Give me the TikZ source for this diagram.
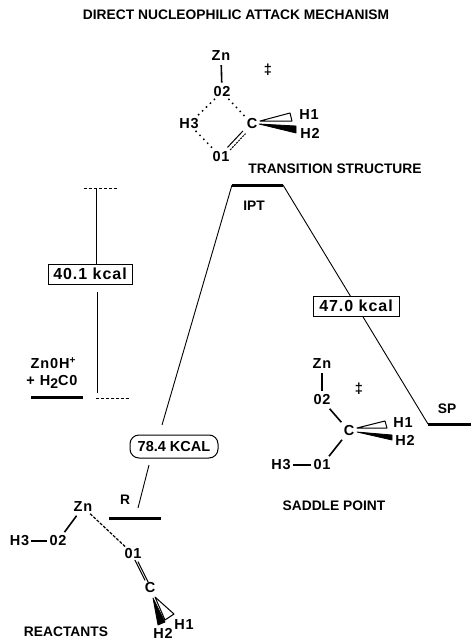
\documentclass[tikz,border=0pt]{standalone}
\usepackage{fontspec}
\setmainfont{Liberation Sans}
\newfontfamily\spacedfont[LetterSpace=6]{Liberation Sans}
\newcommand{\supplus}{\raisebox{5pt}{\fontsize{10}{10}\selectfont +}}
\newcommand{\subtwo}{\raisebox{-3pt}{\fontsize{14}{14}\selectfont 2}}
\begin{document}
\begin{tikzpicture}[x=1pt,y=-1pt,
  lbl/.style={font=\fontsize{13.8}{15}\bfseries\selectfont,inner sep=1pt,text=black},
  atom/.style={font=\fontsize{14.5}{16}\spacedfont\bfseries\selectfont,inner sep=1.5pt,text=black},
  level/.style={line width=3pt},
  path/.style={line width=0.9pt},
  bond/.style={line width=1.6pt,shorten >=2.5pt,shorten <=2.5pt},
  hbond/.style={line width=1.5pt,dash pattern=on 1.5pt off 4pt},
  guide/.style={line width=0.8pt,dash pattern=on 3pt off 2pt},
  ebox/.style={font=\fontsize{16}{18}\spacedfont\bfseries\selectfont,draw,line width=1pt,fill=white,inner sep=0pt,minimum height=20pt,text=black},
  wedgew/.style={draw,line width=1pt,fill=white,line join=round},
  wedgeb/.style={draw,line width=0.8pt,fill=black,line join=round}]
\useasboundingbox (0,0) rectangle (471,642);
\node[lbl] (title) at (236,15) {DIRECT NUCLEOPHILIC ATTACK MECHANISM};
% transition structure molecule
\node[atom] (tzn) at (221,56) {Zn};
\node[atom] (to2) at (222,92) {02};
\node[atom] (th3) at (189,124) {H3};
\node[atom] (tc) at (252,124) {C};
\node[atom] (to1) at (221,157) {01};
\node[atom] (th1) at (309,115) {H1};
\node[atom] (th2) at (310,133) {H2};
\node[atom] (tdag) at (268,70) {‡};
\draw[bond] (tzn) -- (to2);
\draw[hbond] (to2) -- (th3);
\draw[hbond] (to2) -- (tc);
\draw[hbond] (th3) -- (to1);
\draw[line width=1pt,shorten >=2pt,shorten <=2pt,transform canvas={shift={(-1.3pt,1.3pt)}}] (to1) -- (tc);
\draw[line width=1pt,shorten >=2pt,shorten <=2pt,dash pattern=on 2pt off 1pt,transform canvas={shift={(1.3pt,-1.3pt)}}] (to1) -- (tc);
\coordinate (tw1) at (260,121);
\coordinate (tw2) at (259,124);
\draw[wedgew] (tw1) -- (290,113) -- (292,121) -- cycle;
\draw[wedgeb] (tw2) -- (296,126) -- (296,133) -- cycle;
\node[lbl] (tstxt) at (335,169) {TRANSITION STRUCTURE};
% levels
\coordinate (ipta) at (232,185); \coordinate (iptb) at (283,185);
\draw[level] (ipta) -- (iptb);
\node[lbl] (ipt) at (254,206) {IPT};
\coordinate (spa) at (428,424); \coordinate (spb) at (471,424);
\draw[level] (spa) -- (spb);
\node[lbl] (sp) at (447,409) {SP};
\coordinate (ra) at (109,518); \coordinate (rb) at (161,518);
\draw[level] (ra) -- (rb);
\node[lbl] (r) at (125,500) {R};
\coordinate (za) at (31,397); \coordinate (zb) at (83,397);
\draw[level] (za) -- (zb);
% energy profile
\coordinate (rtop) at (138,508);
\coordinate (rgap) at (149,465);
\coordinate (lgap) at (162,425);
\draw[path] (iptb) -- (spa);
\node[ebox,minimum width=86pt] (b47) at (356,306) {47.0 kcal};
\draw[path] (ipta) -- (lgap);
\draw[path] (rgap) -- (rtop);
\node[ebox,rounded corners=9pt,minimum width=88pt,minimum height=23pt,font=\fontsize{14.5}{16}\bfseries\selectfont] (b78) at (174,446.5) {78.4 KCAL};
% left scale
\coordinate (gt1) at (84,188); \coordinate (gt2) at (118,188);
\coordinate (gb1) at (96,398); \coordinate (gb2) at (130,398);
\coordinate (vt) at (96,188); \coordinate (vb) at (97,393);
\coordinate (vm) at (97,292);
\draw[guide] (gt1) -- (gt2);
\draw[guide] (gb1) -- (gb2);
\node[ebox,minimum width=84pt] (b40) at (90,274) {40.1 kcal};
\draw[path] (vt) -- (b40.north -| vt);
\draw[path] (vm) -- (vb);
\node[atom] (znoh) at (53,363) {Zn0H\supplus};
\node[atom] (h2co) at (52,382) {+ H\subtwo C0};
% reactant
\node[atom] (rzn) at (83,507) {Zn};
\node[atom] (ro2) at (58,541) {02};
\node[atom] (rh3) at (19.5,541) {H3};
\node[atom] (ro1) at (133,554) {01};
\node[atom] (rc) at (150,588) {C};
\node[atom] (rh1) at (184,625) {H1};
\node[atom] (rh2) at (163,633) {H2};
\draw[bond] (rzn) -- (ro2);
\draw[bond,shorten >=0.5pt,shorten <=0.5pt] (ro2) -- (rh3);
\draw[line width=1.2pt,dash pattern=on 3pt off 1.5pt] (rzn) -- (ro1);
\draw[line width=1pt,transform canvas={shift={(-1.5pt,0.8pt)}}] (ro1) -- (rc);
\draw[line width=1pt,transform canvas={shift={(1.5pt,-0.8pt)}}] (ro1) -- (rc);
\coordinate (rw1) at (155,597);
\coordinate (rw2) at (153,598);
\draw[wedgew] (rw1) -- (174,614) -- (165,620) -- cycle;
\draw[wedgeb] (rw2) -- (158,625) -- (165,622) -- cycle;
\node[lbl] (react) at (66,632) {REACTANTS};
% saddle point molecule
\node[atom] (szn) at (322,364) {Zn};
\node[atom] (so2) at (322,400) {02};
\node[atom] (sc) at (349,431) {C};
\node[atom] (so1) at (322,465) {01};
\node[atom] (sh3) at (281,465) {H3};
\node[atom] (sh1) at (403,423) {H1};
\node[atom] (sh2) at (405,440) {H2};
\node[atom] (sdag) at (359,389) {‡};
\draw[bond] (szn) -- (so2);
\draw[bond] (so2) -- (sc);
\draw[bond] (sc) -- (so1);
\draw[bond,shorten >=0.5pt,shorten <=0.5pt] (so1) -- (sh3);
\coordinate (sw1) at (357,428);
\coordinate (sw2) at (357,432);
\draw[wedgew] (sw1) -- (385,421) -- (387,428) -- cycle;
\draw[wedgeb] (sw2) -- (392,435) -- (392,440) -- cycle;
\node[lbl] (sptxt) at (334,506) {SADDLE POINT};
\end{tikzpicture}
\end{document}
